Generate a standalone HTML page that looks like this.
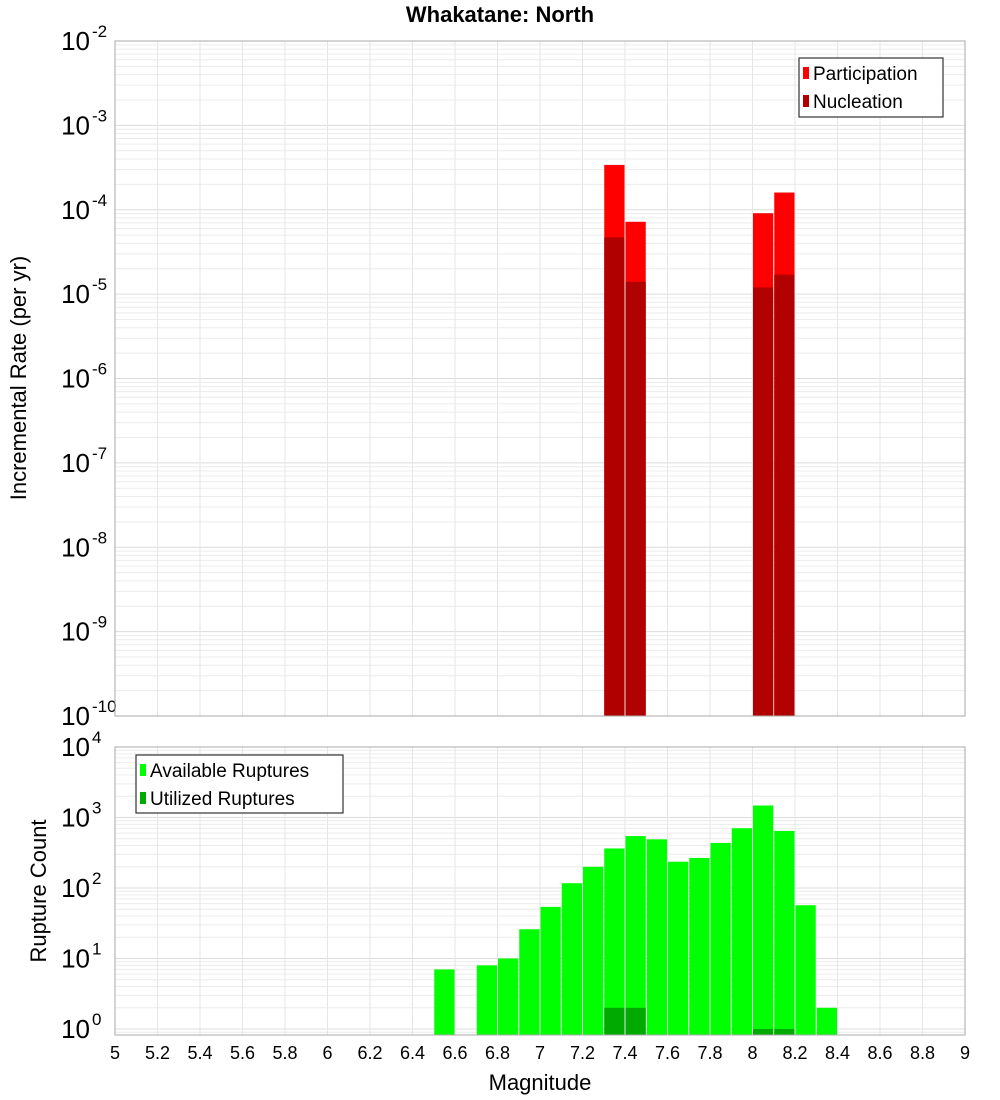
<!DOCTYPE html>
<html><head><meta charset="utf-8"><style>
body{margin:0;background:#fff}
svg{display:block;font-family:"Liberation Sans","DejaVu Sans",sans-serif}
</style></head><body>
<svg id="c" width="1000" height="1100" xmlns="http://www.w3.org/2000/svg">
<text x="500" y="22" text-anchor="middle" font-size="22" font-weight="bold">Whakatane: North</text>
<text transform="translate(26,378) rotate(-90)" text-anchor="middle" font-size="22">Incremental Rate (per yr)</text>
<text transform="translate(46,891) rotate(-90)" text-anchor="middle" font-size="22">Rupture Count</text>
<text x="540" y="1090" text-anchor="middle" font-size="22">Magnitude</text>
<g id="top"></g>
<g id="bot"></g>
<g>
<rect x="799" y="58" width="144" height="59" fill="#fff" stroke="#333" stroke-width="1.2"/>
<rect x="803" y="67" width="6" height="12" fill="#ff0000"/>
<text x="813" y="80" font-size="19">Participation</text>
<rect x="803" y="95" width="6" height="12" fill="#b00000"/>
<text x="813" y="108" font-size="19">Nucleation</text>
</g>
<g>
<rect x="136" y="755" width="207" height="58" fill="#fff" stroke="#333" stroke-width="1.2"/>
<rect x="140" y="764" width="6" height="12" fill="#00ff00"/>
<text x="150" y="777" font-size="19">Available Ruptures</text>
<rect x="140" y="792" width="6" height="12" fill="#00aa00"/>
<text x="150" y="805" font-size="19">Utilized Ruptures</text>
</g>
</svg>
<script>
const rateMags=[7.35,7.45,8.05,8.15];
const participation=[3.4e-4,7.2e-5,9.1e-5,1.6e-4];
const nucleation=[4.7e-5,1.4e-5,1.2e-5,1.7e-5];
const countMags=[6.55,6.75,6.85,6.95,7.05,7.15,7.25,7.35,7.45,7.55,7.65,7.75,7.85,7.95,8.05,8.15,8.25,8.35];
const available=[7,8,10,26,54,117,200,364,545,490,236,267,436,705,1480,646,57,2];
const utilizedMags=[7.35,7.45,8.05,8.15];
const utilized=[2,2,1,1];
const xTicks=[5,5.2,5.4,5.6,5.8,6,6.2,6.4,6.6,6.8,7,7.2,7.4,7.6,7.8,8,8.2,8.4,8.6,8.8,9];
const topExps=[-10,-9,-8,-7,-6,-5,-4,-3,-2];
const botExps=[0,1,2,3,4];
const NS='http://www.w3.org/2000/svg';
const X0=115,X1=965;
const x=m=>X0+(m-5)/4*(X1-X0);
function mk(p,t,a){const e=document.createElementNS(NS,t);for(const k in a)e.setAttribute(k,a[k]);p.appendChild(e);return e;}
function plot(g,top,bot,yLog,lo,hi,exps){
  const yOf=v=>yLog(Math.log10(v));
  for(let d=Math.floor(lo);d<hi;d++)for(let k=1;k<10;k++){const lv=d+Math.log10(k);if(lv<lo||lv>hi)continue;const yy=yLog(lv);
    const l=mk(g,'line',{x1:X0,x2:X1,y1:yy,y2:yy,stroke:k==1?'#dcdcdc':'#ececec','stroke-width':1});
    }
  xTicks.forEach(t=>{const l=mk(g,'line',{x1:x(t),x2:x(t),y1:top,y2:bot,stroke:'#e6e6e6'});
    });
  exps.forEach(e=>{const yy=yLog(e);const t=mk(g,'text',{x:90,y:yy+9,'text-anchor':'end','font-size':26});t.textContent='10';
    
    const s=mk(g,'text',{x:92,y:yy-4,'font-size':17});s.textContent=String(e);
    });
  return yOf;
}
const gt=document.getElementById('top'),gb=document.getElementById('bot');
const T0=41,T1=716,tLog=lv=>T0+(-2-lv)/8*(T1-T0);
const ty=plot(gt,T0,T1,tLog,-10,-2,topExps);
const BW=x(5.1)-x(5);
rateMags.forEach((m,i)=>{
  const p=mk(gt,'rect',{x:x(m)-BW/2+0.5,y:ty(participation[i]),width:BW-1,height:T1-ty(participation[i]),fill:'#ff0000'});
  
  const n=mk(gt,'rect',{x:x(m)-BW/2+0.5,y:ty(nucleation[i]),width:BW-1,height:T1-ty(nucleation[i]),fill:'#b00000'});
  
});
const tf=mk(gt,'rect',{x:X0,y:T0,width:X1-X0,height:T1-T0,fill:'none',stroke:'#aaa'});

const B0=747,B1=1035,DEC=70.5,bLog=lv=>B0+(4-lv)*DEC;
const bmin=4-(B1-B0)/DEC;
const by=plot(gb,B0,B1,bLog,bmin,4,botExps);
countMags.forEach((m,i)=>{
  const r=mk(gb,'rect',{x:x(m)-BW/2+0.5,y:by(available[i]),width:BW-1,height:B1-by(available[i]),fill:'#00ff00'});
  
});
utilizedMags.forEach((m,i)=>{
  const r=mk(gb,'rect',{x:x(m)-BW/2+0.5,y:by(utilized[i]),width:BW-1,height:B1-by(utilized[i]),fill:'#00aa00'});
  
});
const bf=mk(gb,'rect',{x:X0,y:B0,width:X1-X0,height:B1-B0,fill:'none',stroke:'#aaa'});

xTicks.forEach(t=>{const e=mk(gb,'text',{x:x(t),y:1059,'text-anchor':'middle','font-size':18});e.textContent=String(t);
  });
</script>
</body></html>
